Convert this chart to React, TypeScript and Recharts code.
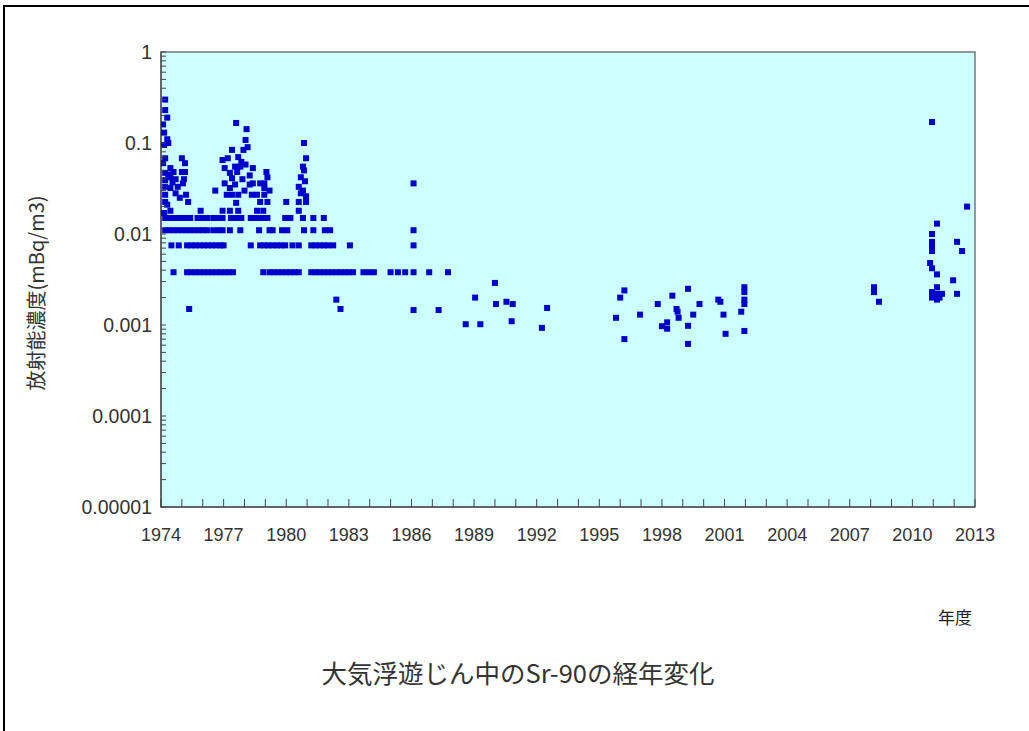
import { CartesianGrid, ReferenceArea, Scatter, ScatterChart, XAxis, YAxis } from "recharts";

// quantized rows (detection-limit style levels), years
const row015Years = [
  1974.2, 1974.4, 1974.6, 1974.8, 1975.0, 1975.2, 1975.4, 1975.75, 1976.0, 1976.2,
  1976.5, 1976.75, 1976.95, 1977.35, 1977.6, 1977.85, 1978.3, 1978.5, 1978.7, 1978.9,
  1979.1, 1979.95, 1980.2, 1980.8, 1981.3, 1981.8,
];
const row011Years = [
  1974.2, 1974.4, 1974.6, 1974.8, 1975.0, 1975.2, 1975.4, 1975.6, 1975.8, 1976.0,
  1976.2, 1976.5, 1976.75, 1976.95, 1977.3, 1977.8, 1978.7, 1979.2, 1979.35, 1979.8,
  1980.05, 1980.85, 1981.3, 1981.85, 1982.1, 1986.1,
];
const row0075Years = [
  1974.5, 1974.85, 1975.25, 1975.45, 1975.65, 1975.85, 1976.05, 1976.25, 1976.45, 1976.65,
  1976.85, 1977.0, 1978.3, 1978.75, 1978.95, 1979.15, 1979.35, 1979.55, 1979.75, 1979.95,
  1980.3, 1980.6, 1981.2, 1981.4, 1981.6, 1981.8, 1982.0, 1982.25, 1983.05, 1986.1,
];
const row0038Years = [
  1974.6, 1975.25, 1975.45, 1975.65, 1975.85, 1976.05, 1976.25, 1976.45, 1976.65, 1976.85,
  1977.05, 1977.25, 1977.45, 1978.9, 1979.2, 1979.4, 1979.6, 1979.8, 1980.0, 1980.2,
  1980.4, 1980.6, 1981.2, 1981.4, 1981.6, 1981.8, 1982.0, 1982.2, 1982.4, 1982.6,
  1982.8, 1983.0, 1983.2, 1983.7, 1983.95, 1984.2, 1985.0, 1985.35, 1985.7, 1986.1,
  1986.85, 1987.75,
];

// scattered measurements [year, mBq/m3]
const points1974: [number, number][] = [
  [1974.2, 0.3], [1974.2, 0.23], [1974.3, 0.19], [1974.1, 0.16], [1974.15, 0.13],
  [1974.3, 0.11], [1974.35, 0.1], [1974.15, 0.095], [1974.2, 0.068], [1974.1, 0.06],
  [1974.45, 0.053], [1974.2, 0.047], [1974.35, 0.045], [1974.45, 0.042], [1974.2, 0.039],
  [1974.55, 0.037], [1974.2, 0.033], [1974.45, 0.032], [1974.2, 0.027], [1974.7, 0.028],
  [1974.2, 0.0225], [1974.3, 0.021], [1974.45, 0.018], [1974.15, 0.017], [1974.6, 0.048],
  [1974.7, 0.04], [1974.8, 0.033], [1974.9, 0.025], [1975.0, 0.068], [1975.15, 0.06],
  [1975.0, 0.048], [1975.15, 0.048], [1975.05, 0.036], [1975.1, 0.04], [1975.2, 0.027],
  [1975.3, 0.0225], [1975.35, 0.0015], [1975.9, 0.018], [1976.95, 0.018], [1976.6, 0.03],
];
const points1977: [number, number][] = [
  [1977.6, 0.166], [1978.1, 0.142], [1978.05, 0.108], [1977.4, 0.084], [1977.95, 0.084],
  [1978.15, 0.09], [1977.7, 0.07], [1977.2, 0.068], [1976.95, 0.065], [1977.85, 0.062],
  [1977.55, 0.055], [1977.8, 0.055], [1978.05, 0.058], [1978.4, 0.053], [1977.05, 0.053],
  [1977.3, 0.047], [1977.65, 0.048], [1978.25, 0.044], [1977.4, 0.041], [1977.9, 0.04],
  [1977.05, 0.036], [1977.55, 0.035], [1978.25, 0.035], [1978.4, 0.036], [1977.3, 0.032],
  [1978.0, 0.03], [1977.7, 0.027], [1978.35, 0.027], [1977.15, 0.027], [1977.4, 0.027],
  [1977.6, 0.022], [1977.3, 0.018], [1977.7, 0.018],
  [1979.05, 0.048], [1979.1, 0.042], [1978.95, 0.036], [1978.75, 0.036], [1978.95, 0.032],
  [1979.2, 0.03], [1978.6, 0.027], [1978.95, 0.027], [1978.75, 0.0225], [1979.1, 0.0225],
  [1978.6, 0.018], [1978.9, 0.018], [1980.0, 0.0225],
];
const points1981: [number, number][] = [
  [1980.85, 0.1], [1980.95, 0.068], [1980.8, 0.055], [1980.85, 0.05], [1980.7, 0.042],
  [1980.9, 0.038], [1980.6, 0.033], [1980.8, 0.03], [1980.7, 0.028], [1980.95, 0.026],
  [1980.6, 0.0225], [1980.95, 0.0225], [1980.6, 0.018], [1982.4, 0.0019], [1982.6, 0.0015],
  [1986.1, 0.036], [1986.1, 0.00146], [1987.3, 0.00146],
];
const points1988: [number, number][] = [
  [1988.6, 0.00102], [1989.05, 0.002], [1989.3, 0.00102], [1990.0, 0.0029], [1990.05, 0.0017],
  [1990.55, 0.0018], [1990.85, 0.0017], [1990.8, 0.0011], [1992.25, 0.00093], [1992.5, 0.00154],
  [1995.8, 0.0012], [1996.0, 0.002], [1996.2, 0.0024], [1996.2, 0.0007], [1996.95, 0.0013],
  [1997.8, 0.0017], [1998.0, 0.00097], [1998.25, 0.00107], [1998.25, 0.00091], [1998.5, 0.0021],
  [1998.7, 0.0015], [1998.75, 0.0014], [1998.8, 0.0012], [1999.25, 0.0025], [1999.25, 0.00098],
  [1999.25, 0.00062], [1999.5, 0.0013], [1999.8, 0.0017], [2000.7, 0.0019], [2000.8, 0.0018],
  [2000.95, 0.0013], [2001.05, 0.0008], [2001.8, 0.0014], [2001.95, 0.0026], [2001.95, 0.0023],
  [2001.95, 0.0019], [2001.95, 0.0017], [2001.95, 0.00086],
];
const points2008: [number, number][] = [
  [2008.16, 0.0026], [2008.16, 0.0023], [2008.4, 0.0018],
  [2010.94, 0.17], [2012.62, 0.02], [2011.18, 0.013], [2010.94, 0.01], [2010.94, 0.0082],
  [2010.94, 0.0072], [2010.94, 0.0065], [2012.14, 0.0082], [2012.38, 0.0065], [2010.85, 0.0048],
  [2010.94, 0.0042], [2011.18, 0.0036], [2011.95, 0.0031], [2011.18, 0.0026], [2010.94, 0.0023],
  [2011.18, 0.0022], [2011.42, 0.0022], [2010.94, 0.002], [2011.18, 0.0019], [2012.14, 0.0022],
  [2011.05, 0.0021], [2011.3, 0.002],
];

const yearLabels = [1974, 1977, 1980, 1983, 1986, 1989, 1992, 1995, 1998, 2001, 2004, 2007, 2010, 2013];
const decadeValues = [0.00001, 0.0001, 0.001, 0.01, 0.1, 1];
const decadeLabels = ["0.00001", "0.0001", "0.001", "0.01", "0.1", "1"];

const rows: [number[], number][] = [
  [row015Years, 0.015],
  [row011Years, 0.011],
  [row0075Years, 0.0075],
  [row0038Years, 0.0038],
];

const data = [
  ...rows.flatMap(([years, v]) => years.map((x) => ({ x, y: v }))),
  ...[...points1974, ...points1977, ...points1981, ...points1988, ...points2008].map(([x, y]) => ({ x, y })),
];

const yearTicks: number[] = [];
for (let yr = 1974; yr <= 2013; yr++) yearTicks.push(yr);

const logTicks: number[] = [];
decadeValues.slice(0, -1).forEach((d) => {
  for (let k = 1; k <= 9; k++) logTicks.push(k === 1 ? d : +(k * d).toPrecision(3));
});
logTicks.push(1);

const numFont = "'Liberation Sans', Arial, sans-serif";
const jpFont = "'Noto Sans CJK JP', 'Noto Sans', sans-serif";

function XTick(props: any) {
  const { x, y, payload } = props;
  const axisY = y - 8;
  const showLabel = yearLabels.includes(payload.value);
  return (
    <g>
      <line x1={x} x2={x} y1={axisY} y2={axisY - 8} stroke="#444" />
      {showLabel && (
        <text x={x} y={axisY + 34} textAnchor="middle" fontSize={18} fontFamily={numFont} fill="#333">
          {payload.value}
        </text>
      )}
    </g>
  );
}

function YTick(props: any) {
  const { x, y, payload } = props;
  const axisX = x + 9;
  const idx = decadeValues.indexOf(payload.value);
  return (
    <g>
      <line x1={axisX} x2={axisX + 5} y1={y} y2={y} stroke="#444" />
      {idx >= 0 && (
        <text x={x} y={y + 6.5} textAnchor="end" fontSize={19.5} fontFamily={numFont} fill="#333">
          {decadeLabels[idx]}
        </text>
      )}
    </g>
  );
}

export default function App() {
  return (
    <div style={{ position: "absolute", left: 0, top: 0, width: 1029, height: 731, overflow: "hidden", background: "#fff" }}>
      <div style={{ position: "absolute", left: 3, top: 5, width: 1100, height: 800, border: "2px solid #000" }} />
      <div style={{ position: "absolute", left: 0, top: 0 }}>
        <ScatterChart width={1029} height={731} margin={{ top: 52, right: 54, bottom: 184, left: 81 }}>
          <CartesianGrid horizontal={false} vertical={false} fill="#ccffff" fillOpacity={1} />
          <ReferenceArea x1={1974} x2={2013} y1={0.00001} y2={1} fill="none" stroke="#777" strokeWidth={1.5} />
          <XAxis
            type="number"
            dataKey="x"
            domain={[1974, 2013]}
            ticks={yearTicks}
            interval={0}
            allowDataOverflow
            height={40}
            tickSize={0}
            tickMargin={8}
            tick={<XTick />}
            axisLine={{ stroke: "#555", strokeWidth: 1.5 }}
            tickLine={false}
          />
          <YAxis
            type="number"
            dataKey="y"
            scale="log"
            domain={[0.00001, 1]}
            ticks={logTicks}
            interval={0}
            allowDataOverflow
            width={80}
            tickSize={0}
            tickMargin={9}
            tick={<YTick />}
            axisLine={{ stroke: "#555", strokeWidth: 1.5 }}
            tickLine={false}
          />
          <Scatter
            data={data}
            isAnimationActive={false}
            shape={(p: any) => <rect x={p.cx - 3} y={p.cy - 3} width={6} height={6} fill="#0000cc" />}
          />
        </ScatterChart>
      </div>
      <div
        style={{
          position: "absolute",
          left: 35,
          top: 293,
          transform: "translate(-50%, -50%) rotate(-90deg)",
          whiteSpace: "nowrap",
          fontSize: 20,
          fontFamily: jpFont,
          color: "#333",
        }}
      >
        放射能濃度(mBq/m3)
      </div>
      <div style={{ position: "absolute", left: 938, top: 604, fontSize: 17, fontFamily: jpFont, color: "#222" }}>年度</div>
      <div
        style={{
          position: "absolute",
          left: 0,
          width: 1036,
          top: 653,
          textAlign: "center",
          fontSize: 25.5,
          fontFamily: jpFont,
          color: "#333",
        }}
      >
        大気浮遊じん中のSr-90の経年変化
      </div>
    </div>
  );
}
